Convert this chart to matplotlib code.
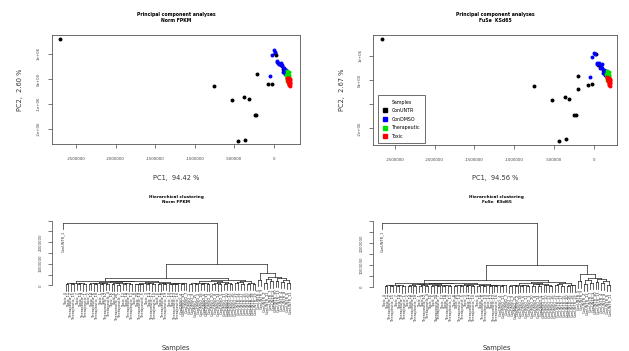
import numpy as np
import matplotlib.pyplot as plt
from matplotlib.lines import Line2D

# figure is 629 x 351 px, everything below is placed in pixel units
W, H = 629, 351

groups = ['ConUNTR', 'ConDMSO', 'Therapeutic', 'Toxic']
colors = ['black', '#0000FF', '#00E000', '#FF0000']

# ---- PCA scores (PC1 in thousands, PC2 in millions) ----
# Norm FPKM
norm_pc1 = {
    'ConUNTR': [-2700, -755, -534, -373, -314, -245, -230, -450, -360, -210, -76, -25, 17,
                30, 60, 95, 120, 145, 160, 175],
    'ConDMSO': [4, -22, 34, 55, 89, 106, 131, 153, -51, 118, 140,
                10, 40, 70, 100, 125, 135, 150, 160, 145],
    'Therapeutic': [169, 153, 182, 165, 175, 160, 185, 170, 178, 190, 165, 180, 172, 188, 195,
                    168, 183, 192, 176, 186],
    'Toxic': [165, 195, 182, 204, 191, 204, 170, 178, 188, 200, 172, 185, 198, 175, 193, 180,
              202, 188, 196, 200],
}
norm_pc2 = {
    'ConUNTR': [1.59, -0.28, -0.84, -0.72, -0.79, -1.44, -1.44, -2.49, -2.44, 0.21, -0.21, -0.21, 1.05,
                0.95, 0.62, 0.55, 0.40, 0.30, 0.22, 0.10],
    'ConDMSO': [1.16, 0.96, 0.73, 0.65, 0.65, 0.52, 0.45, 0.36, 0.13, 0.29, 0.23,
                1.10, 0.70, 0.62, 0.55, 0.42, 0.35, 0.30, 0.27, 0.20],
    'Therapeutic': [0.33, 0.16, 0.12, 0.25, 0.20, 0.12, 0.18, 0.08, 0.05, 0.10, 0.05, 0.00, -0.02,
                    -0.05, 0.02, -0.08, -0.12, -0.15, 0.14, 0.28],
    'Toxic': [0.03, 0.03, -0.08, -0.15, -0.20, -0.28, 0.00, -0.03, 0.00, -0.05, -0.10, -0.12, -0.10,
              -0.05, -0.06, 0.05, -0.20, -0.18, -0.24, 0.00],
}
# FuSe KSd65
fuse_pc1 = {
    'ConUNTR': [-2663, -748, -525, -365, -307, -248, -223, -437, -353, -200, -200, -68, -18, 25,
                60, 95, 120, 145, 160, 175],
    'ConDMSO': [8, -18, 38, 71, 101, 79, 130, 155, 121, -47, 142,
                14, 45, 90, 110, 128, 140, 150, 160, 148],
    'Therapeutic': [171, 155, 176, 168, 180, 162, 188, 172, 182, 192, 166, 184, 174, 190, 198,
                    170, 186, 195, 178, 188],
    'Toxic': [164, 197, 184, 205, 193, 205, 172, 180, 190, 202, 174, 187, 200, 177, 195, 182,
              203, 190, 198, 202],
}
fuse_pc2 = {
    'ConUNTR': [1.68, -0.236, -0.826, -0.715, -0.798, -1.446, -1.446, -2.52, -2.44, 0.18, -0.36, -0.21,
                -0.165, 1.06, 0.62, 0.55, 0.40, 0.30, 0.22, 0.10],
    'ConDMSO': [1.13, 0.94, 0.69, 0.69, 0.66, 0.51, 0.41, 0.37, 0.28, 0.14, 0.25,
                1.08, 0.66, 0.60, 0.50, 0.36, 0.33, 0.30, 0.28, 0.22],
    'Therapeutic': [0.38, 0.24, 0.17, 0.30, 0.26, 0.18, 0.22, 0.14, 0.10, 0.15, 0.10, 0.06, 0.04,
                    0.01, 0.08, -0.02, -0.06, -0.09, 0.20, 0.32],
    'Toxic': [0.11, 0.10, -0.04, -0.11, -0.17, -0.25, 0.07, 0.03, 0.06, 0.01, -0.04, -0.06, -0.03,
              0.02, 0.00, 0.10, -0.14, -0.12, -0.19, 0.06],
}

pca_xticks = [-2500000, -2000000, -1500000, -1000000, -500000, 0]
pca_yticks = [-2e6, -1e6, 0, 1e6]
pca_yticklabels = ['-2e+06', '-1e+06', '0e+00', '1e+06']

# ---- hierarchical clustering: leaf order + merge height between neighbouring leaves ----
leaf_labels = (
    'ConUNTR_1 '
    'Toxic_4 Toxic_11 Therapeutic_2 Therapeutic_15 Toxic_7 Toxic_19 Therapeutic_9 Therapeutic_1 '
    'Toxic_2 Toxic_14 Therapeutic_6 Therapeutic_18 Toxic_1 Toxic_9 Therapeutic_12 Therapeutic_4 '
    'Toxic_16 Toxic_5 Therapeutic_20 Therapeutic_7 Toxic_12 Toxic_18 Therapeutic_3 Therapeutic_11 '
    'Toxic_8 Toxic_20 Therapeutic_14 Therapeutic_5 Toxic_3 Toxic_13 Therapeutic_17 Therapeutic_10 '
    'Toxic_6 Toxic_15 Therapeutic_8 Therapeutic_19 Toxic_10 Toxic_17 Therapeutic_13 Therapeutic_16 '
    'ConDMSO_4 ConDMSO_12 ConDMSO_7 '
    'ConDMSO_1 ConDMSO_9 ConDMSO_15 ConDMSO_2 ConDMSO_18 ConDMSO_6 ConDMSO_11 ConDMSO_3 ConDMSO_20 '
    'ConDMSO_8 ConDMSO_14 ConDMSO_5 ConDMSO_17 ConDMSO_10 ConDMSO_13 ConDMSO_16 ConDMSO_19 '
    'ConUNTR_14 ConUNTR_17 ConUNTR_15 ConUNTR_20 ConUNTR_16 ConUNTR_18 ConUNTR_19 '
    'ConUNTR_5 ConUNTR_9 ConUNTR_2 ConUNTR_12 ConUNTR_7 ConUNTR_3 ConUNTR_10 ConUNTR_13 '
    'ConUNTR_4 ConUNTR_8 ConUNTR_6 ConUNTR_11'
).split()

# heights in millions, gap i sits between leaf i and leaf i+1
norm_gaps = [2.90,
             0.05, 0.10, 0.04, 0.12, 0.06, 0.09, 0.05, 0.22, 0.06, 0.11, 0.04, 0.13, 0.05, 0.10,
             0.07, 0.16, 0.05, 0.09, 0.03, 0.12, 0.06, 0.10, 0.05, 0.18, 0.04, 0.08, 0.05, 0.11,
             0.06, 0.09, 0.04, 0.14, 0.05, 0.10, 0.06, 0.12, 0.04, 0.08, 0.05, 0.11, 0.07, 0.09,
             0.34,
             0.05, 0.09, 0.04, 0.12, 0.06, 0.10, 0.05, 0.20, 0.07, 0.13, 0.05, 0.16, 0.08, 0.12,
             0.06, 0.24, 0.09, 0.15, 0.07, 0.18, 0.06, 0.12, 0.08,
             0.99,
             0.25, 0.56, 0.12, 0.30, 0.18, 0.40, 0.20, 0.33, 0.15, 0.26, 0.10]
fuse_gaps = [2.91,
             0.04, 0.09, 0.05, 0.11, 0.05, 0.08, 0.04, 0.20, 0.05, 0.10, 0.04, 0.12, 0.05, 0.09,
             0.06, 0.15, 0.04, 0.08, 0.03, 0.11, 0.05, 0.09, 0.04, 0.17, 0.04, 0.07, 0.05, 0.10,
             0.05, 0.08, 0.04, 0.13, 0.05, 0.09, 0.05, 0.11, 0.04, 0.07, 0.05, 0.10, 0.06, 0.08,
             0.30,
             0.04, 0.08, 0.04, 0.11, 0.05, 0.09, 0.05, 0.19, 0.06, 0.12, 0.05, 0.15, 0.07, 0.11,
             0.05, 0.22, 0.08, 0.14, 0.06, 0.17, 0.05, 0.11, 0.07,
             1.00,
             0.26, 0.57, 0.13, 0.31, 0.19, 0.41, 0.21, 0.34, 0.16, 0.27, 0.11]

fig = plt.figure(figsize=(W / 100, H / 100), dpi=100)


def px_axes(x0, y0, x1, y1):
    return fig.add_axes([x0 / W, 1 - y1 / H, (x1 - x0) / W, (y1 - y0) / H])


def ftext(x, y, s, **kw):
    fig.text(x / W, 1 - y / H, s, ha='center', va='center', **kw)


def pca_panel(box, xlim, ylim, pc1, pc2, subtitle, xlab, ylab, ylabels, legend=False):
    ax = px_axes(*box)
    for g, c in zip(groups, colors):
        ax.scatter(np.array(pc1[g]) * 1e3, np.array(pc2[g]) * 1e6, s=8, color=c, lw=0)
    ax.set_xlim(xlim)
    ax.set_ylim(ylim)
    ax.set_xticks(pca_xticks)
    ax.set_xticklabels([str(t) for t in pca_xticks])
    ax.set_yticks(pca_yticks)
    ax.set_yticklabels(ylabels, rotation=90, va='center')
    ax.tick_params(axis='x', length=3, width=0.5, labelsize=2.8, pad=6.5, colors='#444')
    ax.tick_params(axis='y', length=3, width=0.5, labelsize=2.8, pad=5, colors='#444')
    for s in ax.spines.values():
        s.set_linewidth(0.6)
        s.set_color('#555')
    cx = (box[0] + box[2]) / 2
    ftext(cx, 14.7, 'Principal component analyses', fontsize=3.3, weight='bold')
    ftext(cx, 21, subtitle, fontsize=3.3, weight='bold')
    ftext(cx, 178, xlab, fontsize=4.8, color='#333')
    ftext(box[0] - 31.7, (box[1] + box[3]) / 2, ylab, fontsize=4.8, color='#333', rotation=90)
    if legend:
        handles = [Line2D([], [], ls='', marker='s', ms=2.8, color=c) for c in colors]
        leg = fig.legend(handles, groups, title='Samples', loc='lower left',
                         bbox_to_anchor=(378 / W, 1 - 143 / H), borderaxespad=0,
                         fontsize=3.4, title_fontsize=3.4, fancybox=False, edgecolor='black',
                         labelspacing=0.75, handlelength=1.2, handletextpad=0.9, borderpad=0.9)
        leg.get_frame().set_linewidth(0.5)
    return ax


def dendro_panel(box, xlim, ylim, gaps, subtitle):
    ax = px_axes(*box)
    gaps = np.array(gaps) * 1e6
    hang = 0.1 * gaps.max()

    def draw(lo, hi):
        # returns x position and height of the node covering leaves lo..hi
        if lo == hi:
            return lo + 1, None
        k = lo + int(np.argmax(gaps[lo:hi]))
        h = gaps[k]
        xs = []
        for a, b in [(lo, k), (k + 1, hi)]:
            x, ch = draw(a, b)
            bottom = ch if ch is not None else h - hang
            ax.plot([x, x], [bottom, h], color='#222', lw=0.5)
            if ch is None:
                ax.annotate(leaf_labels[a], (x, bottom), xytext=(0, -1), textcoords='offset points',
                            rotation=90, ha='center', va='top', fontsize=2.6, color='#333',
                            annotation_clip=False)
            xs.append(x)
        ax.plot(xs, [h, h], color='#222', lw=0.5)
        return (xs[0] + xs[1]) / 2, h

    draw(0, len(leaf_labels) - 1)
    ax.set_xlim(xlim)
    ax.set_ylim(ylim)
    ax.set_xticks([])
    ax.set_yticks(np.arange(0, 3.01e6, 5e5))
    ax.set_yticklabels(['0', '', '1000000', '', '2000000', '', ''], rotation=90, va='center')
    ax.tick_params(axis='y', length=3, width=0.5, labelsize=2.8, pad=4, colors='#444')
    for s in ['top', 'right', 'bottom']:
        ax.spines[s].set_visible(False)
    ax.spines['left'].set_bounds(0, 3e6)
    ax.spines['left'].set_linewidth(0.5)
    ax.spines['left'].set_color('#444')
    cx = (box[0] + box[2]) / 2
    ftext(cx, 196.7, 'Hierarchical clustering', fontsize=3.1, weight='bold')
    ftext(cx, 201.7, subtitle, fontsize=3.1, weight='bold')
    ftext(cx, 348, 'Samples', fontsize=4.8, color='#333')
    return ax


pca_panel((52, 35, 300, 144), (-2805000, 330000), (-2.6e6, 1.76e6), norm_pc1, norm_pc2,
          'Norm FPKM', 'PC1,  94.42 %', 'PC2,  2.60 %', pca_yticklabels)
pca_panel((373.3, 35, 617.3, 145), (-2773000, 297000), (-2.69e6, 1.86e6), fuse_pc1, fuse_pc2,
          'FuSe  KSd65', 'PC1,  94.56 %', 'PC2,  2.67 %', ['-2e+06', '', '0e+00', '1e+06'], legend=True)

dendro_panel((52, 210, 300, 300), (-2.72, 83.48), (-0.68e6, 3.49e6), norm_gaps, 'Norm FPKM')
dendro_panel((373.3, 210, 620, 300), (-1.91, 83.46), (-0.588e6, 3.484e6), fuse_gaps, 'FuSe  KSd65')

fig.savefig('out.png', dpi=100)
